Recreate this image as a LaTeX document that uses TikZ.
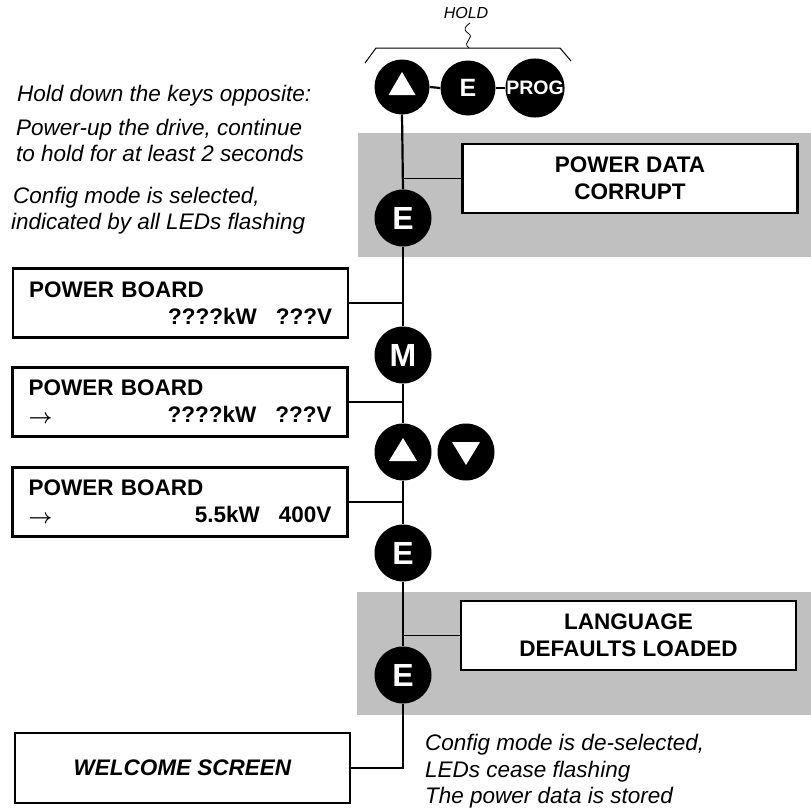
\documentclass[tikz,border=0pt]{standalone}
\usepackage{fontspec}
\setmainfont{Liberation Sans}
\usetikzlibrary{positioning,calc}

\definecolor{bandgray}{HTML}{C0C0C0}

\begin{document}
\begin{tikzpicture}[
  x=1pt, y=-1pt,
  key/.style={circle, fill=black, inner sep=0pt, minimum size=57pt,
    text=white, font=\fontsize{32}{32}\selectfont\bfseries},
  topkey/.style={key, minimum size=55pt, font=\fontsize{25}{25}\selectfont\bfseries},
  lcd/.style={draw, line width=2.2pt, fill=white, inner sep=0pt,
    minimum width=335pt, minimum height=69pt,
    font=\fontsize{22.5}{27}\selectfont\bfseries},
  note/.style={anchor=base west, inner sep=0pt,
    font=\fontsize{22.5}{26}\selectfont\itshape},
  wire/.style={line width=2.2pt},
  thinwire/.style={line width=1.2pt}
]

\useasboundingbox (0,0) rectangle (811,809);

% one LCD box: name, centre, second line
\newcommand{\lcdbox}[3]{%
  \node[lcd, align=left, text width=303pt] (#1) at (#2)
    {POWER BOARD\\#3};
}
\newcommand{\lcdarrow}{\raisebox{-1pt}{\boldmath$\rightarrow$}}

% grey bands behind the spine
\fill[bandgray] (358,133) rectangle (811,257);
\fill[bandgray] (357,592) rectangle (811,715);

% keys held at power-up
\node[topkey] (hUp) at (402,87) {};
\node[topkey] (hE) at (468,88) {E};
\node[topkey, font=\fontsize{19.5}{19.5}\selectfont\bfseries] (hProg) at (535,88) {PROG};
\fill[white] ($(hUp.center)+(0,-15)$) -- ++(13.5,23) -- ++(-27,0) -- cycle;
\draw[wire] (hUp.east) -- (hE.west);
\draw[wire] (hE.east) -- (hProg.west);

% brace and HOLD
\draw[line width=1pt] (365,63) -- (376,48) -- (560,48) -- (571,61);
\draw[line width=0.8pt] (469,48) .. controls (461,42) and (476,38) .. (468,33)
  .. controls (462,29) and (466,26) .. (470,23);
\node[font=\fontsize{16}{16}\selectfont\itshape] (hold) at (466,13) {HOLD};

% notes on the left
\node[note] (n1) at (17,101) {Hold down the keys opposite:};
\node[note] (n2) at (16,135) {Power-up the drive, continue};
\node[note] (n3) at (16,161) {to hold for at least 2 seconds};
\node[note] (n4) at (13,203) {Config mode is selected,};
\node[note] (n5) at (11,229) {indicated by all LEDs flashing};

% keys on the spine
\node[key] (eA) at (403,218) {E};
\node[key] (mKey) at (403,355) {M};
\node[key] (upKey) at (403,452) {};
\node[key] (downKey) at (466,452) {};
\node[key] (eB) at (403,553) {E};
\node[key] (eC) at (403,675) {E};
\fill[white] ($(upKey.center)+(0,-14)$) -- ++(14,23) -- ++(-28,0) -- cycle;
\fill[white] ($(downKey.center)+(0,13)$) -- ++(14,-23) -- ++(-28,0) -- cycle;

% displays
\node[lcd, align=center] (pdata) at (630,178.5) {POWER DATA\\CORRUPT};
\lcdbox{pb1}{180.5,303}{\mbox{}\hfill ????kW\hspace{19pt}???V\hspace{2pt}}
\lcdbox{pb2}{180,402}{\lcdarrow\hfill ????kW\hspace{19pt}???V\hspace{5pt}}
\lcdbox{pb3}{180,502}{\lcdarrow\hfill 5.5kW\hspace{19pt}400V\hspace{17pt}}
\node[lcd, align=center] (lang) at (628.5,635.5) {LANGUAGE\\DEFAULTS LOADED};
\node[lcd, minimum height=70pt, font=\fontsize{22.5}{27}\selectfont\bfseries\itshape]
  (welcome) at (182.5,768) {WELCOME SCREEN};

% spine
\draw[wire] (hUp.south) -- (eA.north);
\draw[wire] (eA.south) -- (mKey.north);
\draw[wire] (mKey.south) -- (upKey.north);
\draw[wire] (upKey.south) -- (eB.north);
\draw[wire] (eB.south) -- (eC.north);
\draw[wire] (eC.south) |- (welcome.east);

% branches to the displays
\draw[thinwire] (pdata.west) -- (pdata.west -| eA.center);
\draw[wire] (pb1.east) -- (pb1.east -| mKey.center);
\draw[wire] (pb2.east) -- (pb2.east -| mKey.center);
\draw[wire] (pb3.east) -- (pb3.east -| mKey.center);
\draw[thinwire] (lang.west) -- (lang.west -| eC.center);

% notes at the bottom
\node[note] (n6) at (425,750) {Config mode is de-selected,};
\node[note] (n7) at (425,777) {LEDs cease flashing};
\node[note] (n8) at (425,803) {The power data is stored};

\end{tikzpicture}
\end{document}
